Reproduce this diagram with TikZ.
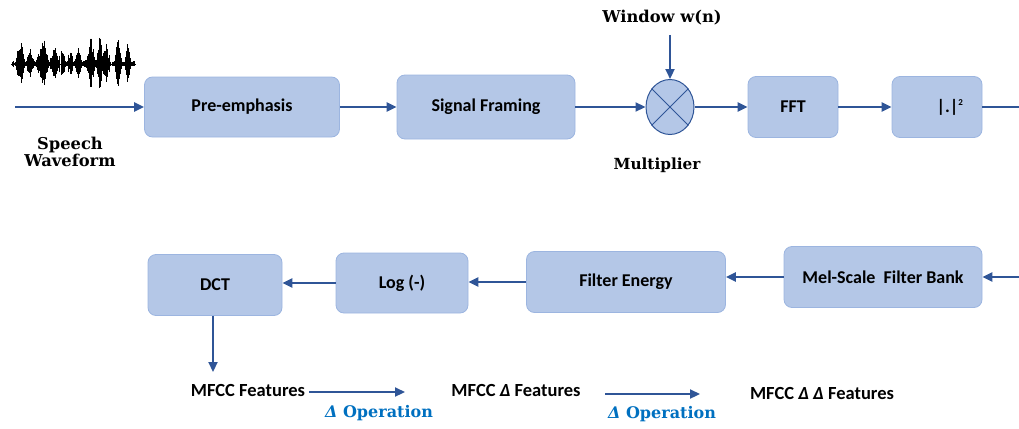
\documentclass[tikz,border=0pt]{standalone}
\usepackage{fontspec}
\setmainfont{Carlito}
\newfontfamily\serifb{DejaVu Serif}
\usetikzlibrary{arrows.meta,shapes.geometric}
\definecolor{boxfill}{RGB}{180,199,231}
\definecolor{boxedge}{RGB}{156,181,224}
\definecolor{arr}{RGB}{47,85,151}
\definecolor{opblue}{RGB}{0,112,192}
\tikzset{
  blk/.style={draw=boxedge, fill=boxfill, rounded corners=8pt, line width=0.8pt,
    font=\fontsize{18}{20}\selectfont\bfseries, inner sep=0pt},
  conn/.style={draw=arr, line width=2.2pt, -{Triangle[length=10pt,width=9pt]}},
  plain/.style={draw=arr, line width=2.2pt},
  lbl/.style={font=\fontsize{18.5}{20}\selectfont\bfseries, inner sep=1pt},
  slbl/.style={font=\serifb\fontsize{16.3}{19}\selectfont\bfseries, inner sep=1pt, align=center},
  oplbl/.style={font=\serifb\fontsize{16}{18}\selectfont\bfseries, text=opblue, inner sep=1pt},
  declare function={g(\x,\c,\w,\a)=\a*exp(-min(((\x-\c)/\w)^2,30));}
}
\begin{document}
\begin{tikzpicture}[x=1pt,y=-1pt]
\useasboundingbox (0,0) rectangle (1019,428);
% waveform
\draw[black, line width=1pt] (11,64) -- (136,64);
\pgfmathsetseed{5}
\foreach \i in {0,...,120}{
  \pgfmathsetmacro\xx{12+1.02*\i}
  \pgfmathsetmacro\env{max(g(\xx,20,3.5,30),g(\xx,30,3,18),g(\xx,43,5,26),g(\xx,55,4,20),g(\xx,62,3,15),g(\xx,70,3,14),g(\xx,78,3,17),g(\xx,91,4,28),g(\xx,100,2.5,33),g(\xx,106,4,24),g(\xx,118,3,26),g(\xx,128,2.5,27),3)}
  \pgfmathsetmacro\hh{\env*(0.45+0.55*rnd)}
  \draw[black, line width=0.9pt] (\xx,64-\hh) -- (\xx,64+0.9*\hh);
}
% top row
\coordinate (src) at (15,107);
\node[slbl] (sw) at (70,152) {Speech\\[-2pt]Waveform};
\node[blk, minimum width=195pt, minimum height=60pt] (pre) at (242,107) {Pre-emphasis};
\node[blk, minimum width=178pt, minimum height=64pt] (sf) at (486,107) {Signal Framing};
\node[ellipse, draw=arr, line width=1pt, fill=boxfill, minimum width=48pt, minimum height=55pt, inner sep=0pt] (mult) at (670,107) {};
\draw[arr, line width=1pt] (mult.45) -- (mult.225) (mult.135) -- (mult.315);
\node[slbl] (win) at (662,18) {Window w(n)};
\coordinate (wtop) at (670,35);
\node[slbl, font=\serifb\fontsize{15.3}{18}\selectfont\bfseries] (mlab) at (657,165) {Multiplier};
\node[blk, minimum width=90pt, minimum height=61pt] (fft) at (793,107) {FFT};
\node[blk, minimum width=90pt, minimum height=61pt] (sq) at (937,107) {\hspace*{26pt}|.|\textsuperscript{\fontsize{9}{9}\selectfont 2}};
\coordinate (r1) at (1019,107);

\draw[conn] (src) -- (pre.west);
\draw[conn] (pre.east) -- (sf.west);
\draw[conn] (sf.east) -- (mult.west);
\draw[conn] (wtop) -- (mult.north);
\draw[conn] (mult.east) -- (fft.west);
\draw[conn] (fft.east) -- (sq.west);
\draw[plain] (sq.east) -- (r1);

% bottom row
\node[blk, minimum width=134pt, minimum height=61pt] (dct) at (215,285) {DCT};
\node[blk, minimum width=132pt, minimum height=60pt] (log) at (402,283) {Log (-)};
\node[blk, minimum width=199pt, minimum height=61pt] (fe) at (626,282) {Filter Energy};
\node[blk, minimum width=198pt, minimum height=61pt] (mel) at (883,277) {Mel-Scale~ Filter Bank};
\coordinate (r2) at (1019,277);

\draw[conn] (r2) -- (mel.east);
\draw[conn] (mel.west) -- (mel.west -| fe.east);
\draw[conn] (fe.west) -- (fe.west -| log.east);
\draw[conn] (log.west) -- (log.west -| dct.east);

\coordinate (d1) at (213,372);
\draw[conn] (dct.south -| d1) -- (d1);

\node[lbl] (mf1) at (248,390) {MFCC Features};
\node[lbl] (mf2) at (516,390) {MFCC \textit{Δ} Features};
\node[lbl] (mf3) at (822,393) {MFCC \textit{Δ} \textit{Δ} Features};
\node[oplbl] (op1) at (379,413) {\textit{Δ} Operation};
\node[oplbl] (op2) at (662,414) {\textit{Δ} Operation};
\coordinate (a1s) at (309,392);
\coordinate (a1e) at (405,392);
\coordinate (a2s) at (605,394);
\coordinate (a2e) at (700,394);
\draw[conn] (a1s) -- (a1e);
\draw[conn] (a2s) -- (a2e);
\end{tikzpicture}
\end{document}
